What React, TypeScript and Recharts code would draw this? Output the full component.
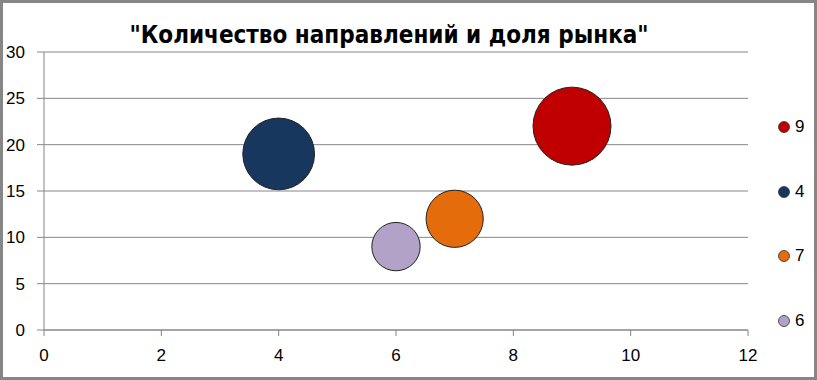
import { Legend, ScatterChart, Scatter, XAxis, YAxis, ZAxis, CartesianGrid } from "recharts";

const TITLE = "\"Количество направлений и доля рынка\"";

const SERIES_NAMES = ["9", "4", "7", "6"];
const X_VALUES = [9, 4, 7, 6];
const Y_VALUES = [22, 19, 12, 9];
const BUBBLE_SIZES = [26, 22, 14, 10];
const COLORS = ["#C00000", "#17375E", "#E46C0A", "#B3A2C7"];

const X_TICKS = [0, 2, 4, 6, 8, 10, 12];
const Y_TICKS = [0, 5, 10, 15, 20, 25, 30];

const FONT = "'Liberation Sans', Arial, sans-serif";
const GRID = "#868686";

function LegendBox({ payload }: any) {
  // keep the legend in the series order, not sorted
  const items = [...(payload ?? [])].sort(
    (a: any, b: any) => SERIES_NAMES.indexOf(a.value) - SERIES_NAMES.indexOf(b.value)
  );
  return (
    <div style={{ fontFamily: FONT, fontSize: 17, color: "#000" }}>
      {items.map((p: any) => (
        <div key={p.value} style={{ height: 64.7, display: "flex", alignItems: "flex-start" }}>
          <svg width={14} height={20} style={{ marginRight: 4 }}>
            <circle cx={7} cy={10} r={5.5} fill={p.color} stroke="#333" strokeWidth={0.8} />
          </svg>
          <span style={{ lineHeight: "20px" }}>{p.value}</span>
        </div>
      ))}
    </div>
  );
}

export default function App() {
  const series = SERIES_NAMES.map((name, i) => ({
    name,
    color: COLORS[i],
    data: [{ x: X_VALUES[i], y: Y_VALUES[i], z: BUBBLE_SIZES[i] }],
  }));

  return (
    <div style={{ position: "absolute", left: 0, top: 0, width: 817, height: 380, background: "#fff" }}>
      <ScatterChart width={817} height={380} margin={{ top: 52, right: 69, bottom: 20, left: 0 }}>
        <CartesianGrid horizontal vertical={false} stroke={GRID} strokeDasharray="" />
        <XAxis
          type="number"
          dataKey="x"
          domain={[0, 12]}
          ticks={X_TICKS}
          height={30}
          stroke={GRID}
          tickSize={6}
          tickMargin={13}
          tick={{ fill: "#000", fontSize: 17, fontFamily: FONT }}
        />
        <YAxis
          type="number"
          dataKey="y"
          domain={[0, 30]}
          ticks={Y_TICKS}
          width={44}
          stroke={GRID}
          tickSize={7}
          tickMargin={12}
          tick={{ fill: "#000", fontSize: 17, fontFamily: FONT }}
        />
        <ZAxis type="number" dataKey="z" domain={[0, 26]} range={[0, 4778]} />
        <Legend
          layout="vertical"
          align="center"
          verticalAlign="middle"
          content={<LegendBox />}
          wrapperStyle={{ left: 777, top: 117, width: 40 }}
        />
        {series.map((s) => (
          <Scatter
            key={s.name}
            name={s.name}
            data={s.data}
            fill={s.color}
            stroke="#222"
            strokeWidth={1}
            isAnimationActive={false}
          />
        ))}
      </ScatterChart>
      <div
        style={{
          position: "absolute",
          left: 0,
          top: 21,
          width: 778,
          textAlign: "center",
          fontFamily: "'Liberation Sans Narrow', 'DejaVu Sans Condensed', sans-serif",
          fontWeight: "bold",
          fontSize: 24,
          color: "#000",
        }}
      >
        {TITLE}
      </div>
      <div
        style={{
          position: "absolute",
          inset: 0,
          border: "3px solid #868686",
          pointerEvents: "none",
        }}
      />
    </div>
  );
}
